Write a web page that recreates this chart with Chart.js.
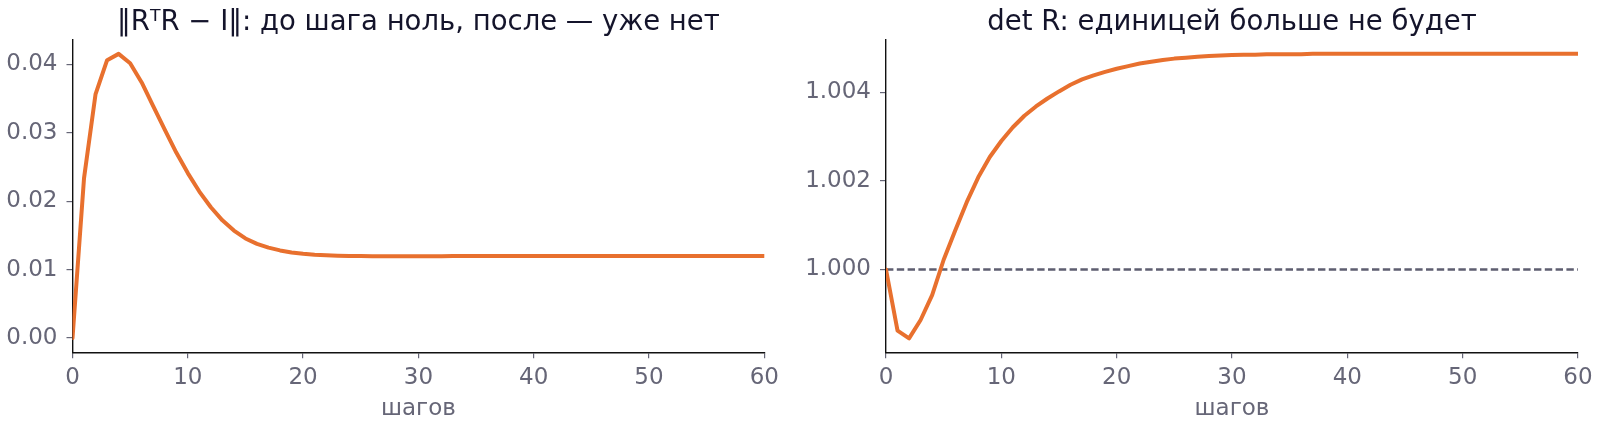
<!DOCTYPE html>
<html><head><meta charset="utf-8">
<script src="https://cdn.jsdelivr.net/npm/chart.js@4.4.1/dist/chart.umd.min.js"></script>
<style>
html,body{margin:0;padding:0;background:#fff;width:1600px;height:421px;overflow:hidden}
.w{position:absolute;top:0;width:800px;height:421px}
</style></head><body>
<div class="w" style="left:0"><canvas id="c1"></canvas></div>
<div class="w" style="left:800px"><canvas id="c2"></canvas></div>
<script>
// ---- data ----
const steps = [0,1,2,3,4,5,6,7,8,9,10,11,12,13,14,15,16,17,18,19,20,21,22,23,24,25,26,27,28,29,30,
  31,32,33,34,35,36,37,38,39,40,41,42,43,44,45,46,47,48,49,50,51,52,53,54,55,56,57,58,59,60];
const orthErr = [0.0000,0.02336,0.03565,0.04060,0.04152,0.04015,0.03735,0.03390,0.03045,0.02710,
  0.02410,0.02140,0.01910,0.01720,0.01570,0.01455,0.01375,0.01320,0.01280,0.01250,
  0.01230,0.01217,0.01208,0.01202,0.01199,0.01197,0.01196,0.01196,0.01196,0.01196,
  0.01196,0.01196,0.01196,0.01197,0.01197,0.01197,0.01197,0.01197,0.01198,0.01198,
  0.01198,0.01198,0.01198,0.01199,0.01199,0.01199,0.01199,0.01199,0.01199,0.01200,
  0.01200,0.01200,0.01200,0.01200,0.01200,0.01200,0.01200,0.01200,0.01200,0.01200,0.01200];
const detR = [1.00000,0.99862,0.998445,0.99886,0.99942,1.00022,1.00088,1.00152,1.00208,1.00254,
  1.00290,1.00321,1.00347,1.00368,1.00386,1.00402,1.00417,1.00429,1.00438,1.00446,
  1.00453,1.00459,1.00465,1.00469,1.00473,1.00476,1.00478,1.00480,1.00482,1.00483,
  1.00484,1.00485,1.00485,1.00486,1.00486,1.00486,1.00486,1.00487,1.00487,1.00487,
  1.00487,1.00487,1.00487,1.00487,1.00487,1.00487,1.00487,1.00487,1.00487,1.00487,
  1.00487,1.00487,1.00487,1.00487,1.00487,1.00487,1.00487,1.00487,1.00487,1.00487,1.00487];
const refLevel = [1.0, 1.0];
const refSteps = [0, 60];
const xTicks = [0,10,20,30,40,50,60];
const yTicksLeft = [0.00,0.01,0.02,0.03,0.04];
const yTicksRight = [1.000,1.002,1.004];
const titles = ['\u2016R\u1D40R \u2212 I\u2016: до шага ноль, после \u2014 уже нет', 'det R: единицей больше не будет'];
const xLabel = 'шагов';

// ---- style ----
const FONT = "'DejaVu Sans', sans-serif";
const ORANGE = '#e8702e';
const GREY = '#666677';
const INK = '#14142b';

const panelTitle = {
  id: 'panelTitle',
  afterDraw(chart, args, opts) {
    const {ctx, chartArea} = chart;
    ctx.save();
    ctx.font = opts.size + 'px ' + FONT;
    ctx.fillStyle = INK;
    ctx.textAlign = 'center';
    ctx.textBaseline = 'alphabetic';
    ctx.fillText(opts.text, (chartArea.left + chartArea.right) / 2, opts.y);
    ctx.restore();
  }
};

function makeChart(id, datasets, yMin, yMax, yTicks, digits, yAxisW, padRight, title) {
  return new Chart(document.getElementById(id), {
    type: 'line',
    data: { datasets },
    plugins: [panelTitle],
    options: {
      responsive: true, maintainAspectRatio: false, animation: false,
      devicePixelRatio: 1,
      layout: { padding: { left: 0, right: padRight, top: 39.3, bottom: 0 } },
      plugins: { legend: { display: false }, tooltip: { enabled: false },
        panelTitle: { text: title, size: 27.5, y: 29.5 } },
      elements: { point: { radius: 0 } },
      scales: {
        x: {
          type: 'linear', min: 0, max: 60,
          afterBuildTicks: s => { s.ticks = xTicks.map(v => ({ value: v })); },
          afterFit: s => { s.height = 68.7; },
          grid: { drawOnChartArea: false, drawTicks: true, tickLength: 6, color: GREY, lineWidth: 1.2 },
          border: { display: true, color: '#111111', width: 1.4 },
          ticks: { color: GREY, font: { family: FONT, size: 23 }, padding: 6, maxRotation: 0,
            callback: v => String(v) },
          title: { display: true, text: xLabel, color: GREY, font: { family: FONT, size: 23 }, padding: { top: 0, bottom: -2 } }
        },
        y: {
          type: 'linear', min: yMin, max: yMax,
          afterBuildTicks: s => { s.ticks = yTicks.map(v => ({ value: v })); },
          afterFit: s => { s.width = yAxisW; },
          grid: { drawOnChartArea: false, drawTicks: true, tickLength: 6, color: GREY, lineWidth: 1.2 },
          border: { display: true, color: '#111111', width: 1.4 },
          ticks: { color: GREY, font: { family: FONT, size: 23 }, padding: 9,
            callback: v => Number(v).toFixed(digits) }
        }
      }
    }
  });
}

makeChart('c1', [
  { data: orthErr.map((v, i) => ({ x: steps[i], y: v })), borderColor: ORANGE, borderWidth: 4,
    fill: false, tension: 0, borderJoinStyle: 'round', borderCapStyle: 'round' }
], -0.00209, 0.04365, yTicksLeft, 2, 72.5, 35.7, titles[0]);

makeChart('c2', [
  { data: detR.map((v, i) => ({ x: steps[i], y: v })), borderColor: ORANGE, borderWidth: 4,
    fill: false, tension: 0, borderJoinStyle: 'round', borderCapStyle: 'round' },
  { data: refLevel.map((v, i) => ({ x: refSteps[i], y: v })), borderColor: '#5e5e70', borderWidth: 2.3,
    borderDash: [7.4, 3.4], fill: false }
], 0.998131, 1.005196, yTicksRight, 3, 86, 22, titles[1]);
</script>
</body></html>
